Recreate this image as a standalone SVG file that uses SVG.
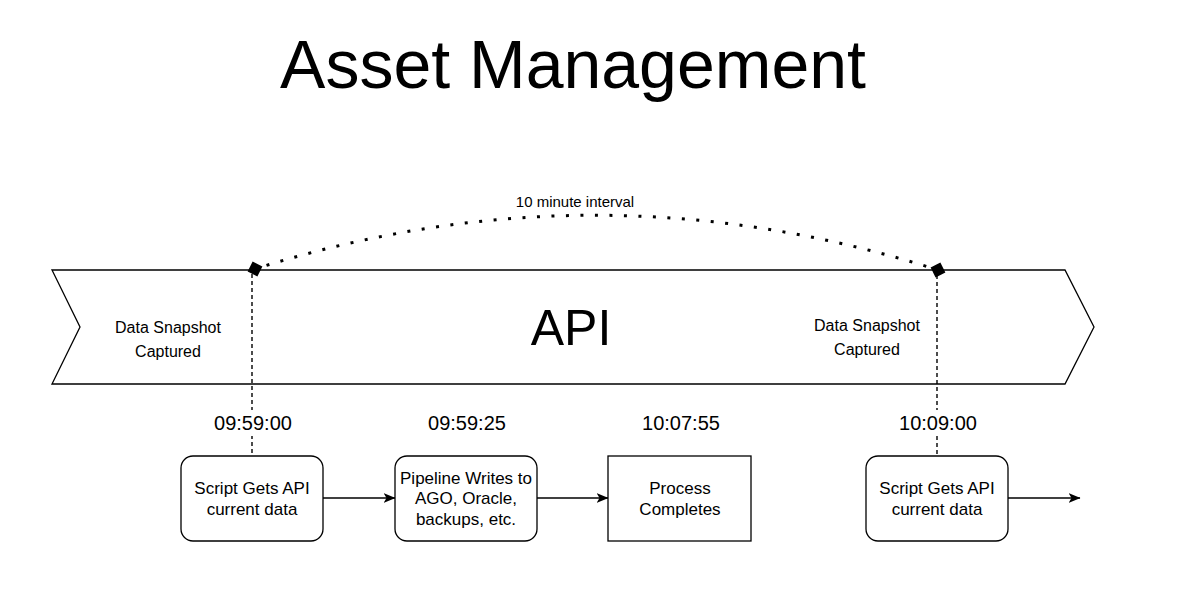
<svg xmlns="http://www.w3.org/2000/svg" width="1192" height="609" viewBox="0 0 1192 609">
<style>
text{font-family:"Liberation Sans",Arial,sans-serif;fill:#000}
.lbl{font-size:16px;text-anchor:middle}
.nl{font-size:17px;text-anchor:middle}
.time{font-size:20px;text-anchor:middle}
.box{fill:#fff;stroke:#000;stroke-width:1.3}
.edge{fill:none;stroke:#000;stroke-width:1.3}
.vd{stroke:#000;stroke-width:1.4;stroke-dasharray:4 3}
</style>
<defs>
<marker id="arr" viewBox="0 0 12 11" refX="11.5" refY="5.5" markerWidth="12" markerHeight="11" markerUnits="userSpaceOnUse" orient="auto">
<path d="M0,0.5 L12,5.5 L0,10.5 L3,5.5 Z" fill="#000"/>
</marker>
</defs>
<rect width="1192" height="609" fill="#fff"/>
<text x="573" y="88" font-size="68" text-anchor="middle">Asset Management</text>
<g id="api">
<path d="M52,270 L1065,270 L1094,327 L1065,384 L52,384 L80,327 Z" class="box"/>
<text x="571" y="345" font-size="50" text-anchor="middle">API</text>
<text class="lbl" x="168" y="333">Data Snapshot</text>
<text class="lbl" x="168" y="357">Captured</text>
<text class="lbl" x="867" y="331">Data Snapshot</text>
<text class="lbl" x="867" y="355">Captured</text>
</g>
<g id="connectors">
<path d="M255,269 Q596,161 938,270" fill="none" stroke="#000" stroke-width="3" stroke-dasharray="3 11.5" stroke-dashoffset="-12"/>
<rect x="249.5" y="263.5" width="11" height="11" transform="rotate(27 255 269)" fill="#000"/>
<rect x="932.5" y="264.5" width="11" height="11" transform="rotate(63 938 270)" fill="#000"/>
<line x1="252" y1="274" x2="252" y2="456" class="vd"/>
<line x1="937" y1="275" x2="937" y2="456" class="vd"/>
<line x1="323" y1="498" x2="395" y2="498" class="edge" marker-end="url(#arr)"/>
<line x1="537" y1="498" x2="608" y2="498" class="edge" marker-end="url(#arr)"/>
<line x1="1008" y1="498" x2="1080" y2="498" class="edge" marker-end="url(#arr)"/>
</g>
<g id="label-interval"><text x="575" y="207" font-size="15" text-anchor="middle">10 minute interval</text></g>
<g id="t1"><rect x="214" y="410" width="78" height="26" fill="#fff"/><text class="time" x="253" y="430">09:59:00</text></g>
<g id="t2"><text class="time" x="467" y="430">09:59:25</text></g>
<g id="t3"><text class="time" x="681" y="430">10:07:55</text></g>
<g id="t4"><rect x="899" y="410" width="78" height="26" fill="#fff"/><text class="time" x="938" y="430">10:09:00</text></g>
<g id="n1"><rect x="181" y="456" width="142" height="85" rx="12" class="box"/>
<text class="nl" x="252" y="494">Script Gets API</text><text class="nl" x="252" y="515">current data</text></g>
<g id="n2"><rect x="395" y="456" width="142" height="85" rx="12" class="box"/>
<text class="nl" x="466" y="484">Pipeline Writes to</text><text class="nl" x="466" y="504">AGO, Oracle,</text><text class="nl" x="466" y="525">backups, etc.</text></g>
<g id="n3"><rect x="608" y="456" width="143" height="85" class="box"/>
<text class="nl" x="680" y="494">Process</text><text class="nl" x="680" y="515">Completes</text></g>
<g id="n4"><rect x="866" y="456" width="142" height="85" rx="12" class="box"/>
<text class="nl" x="937" y="494">Script Gets API</text><text class="nl" x="937" y="515">current data</text></g>
</svg>
